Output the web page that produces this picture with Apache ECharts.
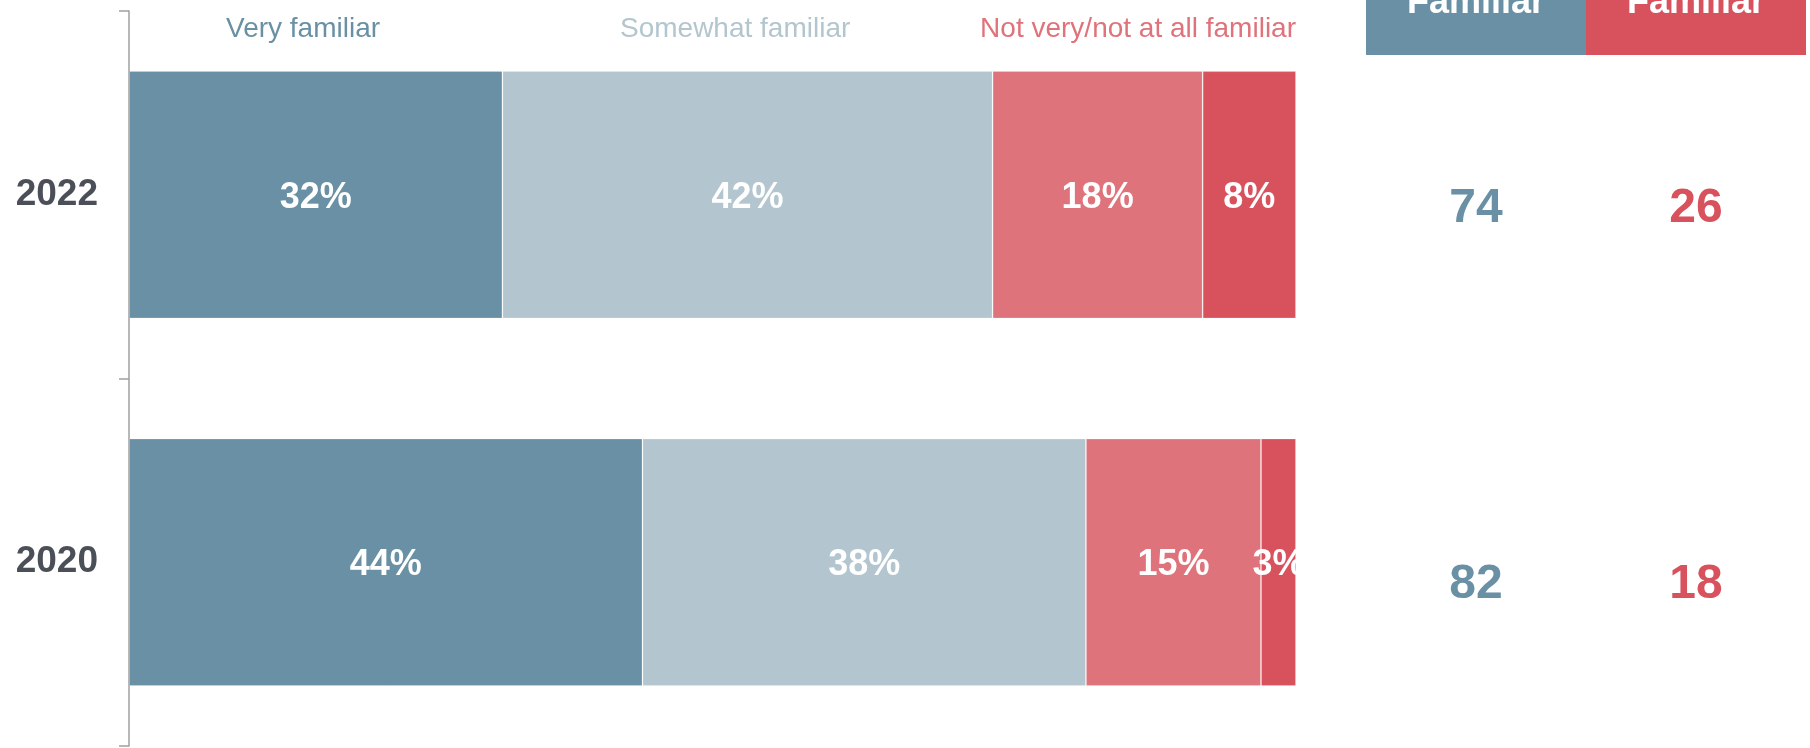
<!DOCTYPE html>
<html>
<head>
<meta charset="utf-8">
<script src="https://cdn.jsdelivr.net/npm/echarts@6/dist/echarts.min.js"></script>
<style>
  html, body { margin: 0; padding: 0; background: #fff; }
  #main { width: 1810px; height: 748px; }
</style>
</head>
<body>
<div id="main"></div>
<script>
// data
const years = ['2022', '2020'];
const veryFamiliar = [32, 44];
const somewhatFamiliar = [42, 38];
const notVery = [18, 15];
const notAtAll = [8, 3];
const totalCols = ['Familiar', 'Not Familiar'];
const totalFamiliar = [74, 82];
const totalNotFamiliar = [26, 18];

const FONT = '"Liberation Sans", Arial, sans-serif';
const BLUE = '#6990a4';
const LIGHT = '#b3c6cf';
const PINK = '#df737b';
const RED = '#d8525e';

const chart = echarts.init(document.getElementById('main'));

function barSeries(name, data, color) {
  return {
    name: name,
    type: 'bar',
    stack: 'total',
    data: data,
    barWidth: '67.3%',
    itemStyle: { color: color, borderColor: 'rgba(255,255,255,0.18)', borderWidth: 1 },
    label: {
      show: true,
      position: 'inside',
      offset: [0, 3],
      formatter: '{c}%',
      color: '#fff',
      fontFamily: FONT,
      fontWeight: 'bold',
      fontSize: 36
    },
    emphasis: { disabled: true }
  };
}

function totalSeries(name, values, color) {
  return {
    name: name,
    type: 'scatter',
    xAxisIndex: 1,
    yAxisIndex: 1,
    symbolSize: 0,
    itemStyle: { opacity: 1, color: color },
    data: years.map((y, i) => [name, y, values[i]]),
    label: {
      show: true,
      position: 'inside',
      offset: [0, 3],
      formatter: p => p.value[2],
      color: color,
      fontFamily: FONT,
      fontWeight: 'bold',
      fontSize: 48
    },
    emphasis: { disabled: true }
  };
}

function legendItem(name, color, pos) {
  return Object.assign({
    data: [name],
    top: 15,
    icon: 'none',
    itemWidth: 0,
    itemGap: 0,
    padding: 0,
    selectedMode: false,
    textStyle: { color: color, fontFamily: FONT, fontSize: 28 }
  }, pos);
}

const option = {
  backgroundColor: '#fff',
  animation: false,
  textStyle: { fontFamily: FONT },
  legend: [
    legendItem('Very familiar', BLUE, { left: 221 }),
    legendItem('Somewhat familiar', LIGHT, { left: 615 }),
    legendItem('Not very/not at all familiar', PINK, { right: 514 })
  ],
  grid: [
    { left: 129, right: 514, top: 11, bottom: 2 },
    { left: 1366, right: 4, top: 18, height: 752, outerBoundsMode: 'none' }
  ],
  xAxis: [
    { type: 'value', min: 0, max: 100, show: false },
    { type: 'category', gridIndex: 1, data: totalCols, show: false }
  ],
  yAxis: [
    {
      type: 'category',
      data: years,
      inverse: true,
      axisLine: { show: true, lineStyle: { color: '#a0a0a0', width: 1.5 } },
      axisTick: { show: true, length: 10, lineStyle: { color: '#a0a0a0', width: 1.5 } },
      axisLabel: {
        margin: 31,
        color: '#4b4f58',
        fontFamily: FONT,
        fontWeight: 'bold',
        fontSize: 37,
        padding: [8, 0, 0, 0]
      },
      splitLine: { show: false }
    },
    { type: 'category', gridIndex: 1, data: years, inverse: true, show: false }
  ],
  graphic: [
    { type: 'rect', left: 1366, top: 0, shape: { width: 220, height: 55 }, style: { fill: BLUE }, silent: true },
    { type: 'rect', left: 1586, top: 0, shape: { width: 220, height: 55 }, style: { fill: RED }, silent: true },
    { type: 'text', x: 1476, y: 21, style: { text: 'Familiar', fill: '#fff', font: 'bold 36px ' + FONT, textAlign: 'center', textVerticalAlign: 'bottom' }, silent: true },
    { type: 'text', x: 1696, y: 21, style: { text: 'Familiar', fill: '#fff', font: 'bold 36px ' + FONT, textAlign: 'center', textVerticalAlign: 'bottom' }, silent: true }
  ],
  series: [
    barSeries('Very familiar', veryFamiliar, BLUE),
    barSeries('Somewhat familiar', somewhatFamiliar, LIGHT),
    barSeries('Not very/not at all familiar', notVery, PINK),
    barSeries('Not at all familiar', notAtAll, RED),
    totalSeries('Familiar', totalFamiliar, BLUE),
    totalSeries('Not Familiar', totalNotFamiliar, RED)
  ]
};

chart.setOption(option);
</script>
</body>
</html>
